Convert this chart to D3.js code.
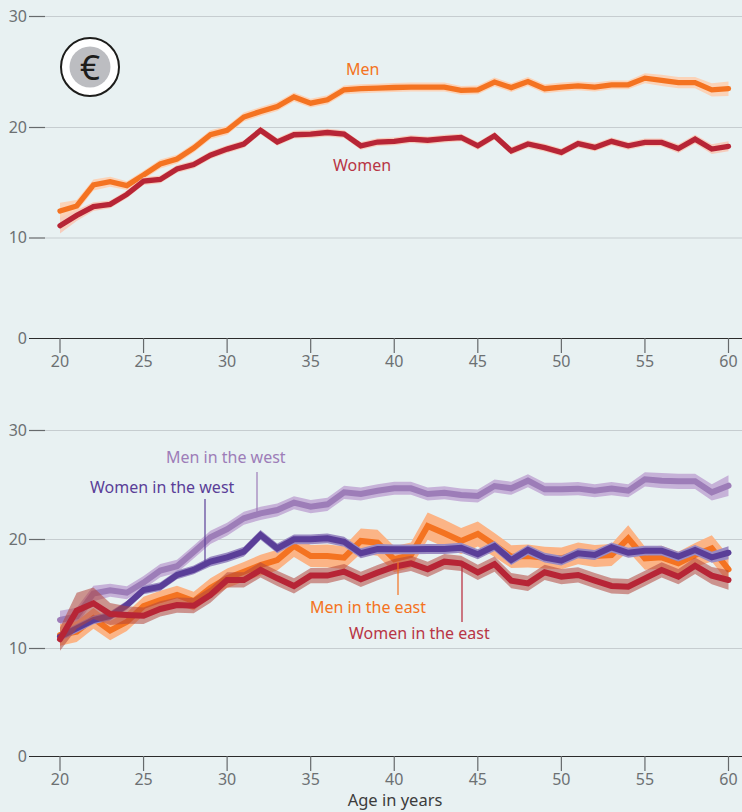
<!DOCTYPE html>
<html>
<head>
<meta charset="utf-8">
<script src="https://cdn.jsdelivr.net/npm/d3@7"></script>
<style>
  html,body{margin:0;padding:0;background:#e8f1f2;}
  svg{display:block;font-family:"Noto Sans","Open Sans",sans-serif;}
</style>
</head>
<body>
<div id="chart"></div>
<script>
const ages=d3.range(20,61);
const yTicks=[0,10,20,30];
const xTicks=[20,25,30,35,40,45,50,55,60];

// top panel, all of Germany
const men=[12.4,12.85,14.75,15.05,14.7,15.65,16.65,17.1,18.1,19.3,19.7,20.9,21.4,21.85,22.7,22.15,22.45,23.35,23.45,23.5,23.56,23.6,23.6,23.6,23.3,23.35,24.05,23.55,24.1,23.45,23.6,23.7,23.6,23.8,23.8,24.4,24.2,24.0,24.0,23.35,23.45];
const menBand=[.75,.55,.5,.45,.4,.4,.4,.4,.4,.4,.4,.4,.4,.4,.4,.4,.4,.4,.4,.4,.4,.4,.4,.4,.4,.4,.4,.4,.4,.4,.4,.4,.4,.4,.4,.45,.5,.5,.5,.6,.65];
const women=[11.07,12.0,12.8,13.0,13.9,15.1,15.25,16.2,16.6,17.45,18.0,18.45,19.7,18.65,19.3,19.35,19.5,19.35,18.3,18.64,18.7,18.9,18.8,18.95,19.05,18.3,19.2,17.83,18.46,18.13,17.7,18.5,18.15,18.7,18.3,18.6,18.6,18.05,18.9,18.0,18.25];
const womenBand=[.7,.5,.4,.35,.35,.35,.35,.35,.35,.35,.35,.35,.35,.35,.35,.35,.35,.35,.35,.35,.35,.35,.35,.35,.35,.35,.35,.35,.35,.35,.35,.35,.35,.35,.35,.35,.35,.4,.4,.45,.45];

// bottom panel, west and east
const menWest=[12.57,12.9,15.0,15.3,15.07,16.0,17.1,17.5,18.8,20.15,20.9,21.9,22.35,22.66,23.33,22.97,23.18,24.28,24.13,24.43,24.65,24.65,24.13,24.25,24.04,23.95,24.86,24.65,25.35,24.56,24.56,24.62,24.43,24.62,24.43,25.47,25.35,25.29,25.29,24.28,24.89];
const menWestBand=[.85,.8,.7,.6,.6,.6,.6,.6,.6,.6,.6,.6,.6,.6,.6,.6,.6,.6,.6,.6,.6,.6,.6,.6,.6,.6,.6,.6,.6,.6,.6,.6,.6,.6,.6,.65,.7,.7,.7,.75,.95];
const womenWest=[11.04,11.8,12.57,12.94,13.94,15.32,15.63,16.7,17.16,17.92,18.32,18.84,20.37,19.14,19.97,19.97,20.06,19.75,18.69,19.08,19.05,19.05,19.08,19.08,19.2,18.6,19.36,18.07,18.99,18.29,18.01,18.69,18.53,19.24,18.74,18.93,18.93,18.38,18.99,18.32,18.74];
const womenWestBand=[.4,.4,.4,.4,.4,.4,.4,.4,.4,.45,.45,.45,.45,.45,.45,.45,.45,.45,.45,.45,.45,.45,.45,.45,.45,.45,.45,.45,.45,.45,.45,.45,.45,.45,.45,.45,.45,.45,.45,.5,.6];
const menEast=[11.2,11.5,12.72,11.6,12.4,13.85,14.4,14.86,14.3,15.5,16.4,17.0,17.6,18.07,19.36,18.44,18.44,18.29,19.82,19.66,18.14,18.53,21.19,20.52,19.82,20.46,19.45,18.38,18.44,18.29,18.23,18.69,18.44,18.53,20.06,18.23,18.32,17.77,18.53,19.14,17.22];
const menEastBand=[1.0,.95,.95,.9,.85,.85,.85,.85,.85,.9,.9,.9,.95,.95,1.0,1.0,1.05,1.05,1.15,1.2,1.2,1.15,1.25,1.25,1.2,1.15,1.1,1.05,1.05,1.0,1.0,1.0,1.0,1.0,1.2,1.05,1.05,1.05,1.1,1.2,1.25];
const womenEast=[10.8,13.42,14.1,13.12,13.03,12.96,13.58,13.94,13.88,14.86,16.24,16.24,17.16,16.39,15.69,16.64,16.64,17.0,16.3,16.91,17.46,17.77,17.22,17.92,17.77,16.94,17.7,16.18,15.93,16.94,16.54,16.7,16.18,15.69,15.63,16.39,17.16,16.54,17.55,16.64,16.24];
const womenEastBand=[1.05,1.65,1.45,1.0,.8,.75,.7,.7,.7,.7,.7,.7,.7,.7,.7,.7,.7,.7,.7,.7,.7,.7,.7,.7,.7,.7,.7,.7,.7,.7,.7,.7,.7,.7,.7,.7,.7,.7,.75,.8,.9];

const W=742,H=812;
const svg=d3.select("#chart").append("svg").attr("width",W).attr("height",H);
svg.append("rect").attr("width",W).attr("height",H).attr("fill","#e8f1f2");

const x=d3.scaleLinear().domain([20,60]).range([60,728.5]);
const line=(y)=>d3.line().x((d,i)=>x(ages[i])).y(d=>y(d));

function panel(y){
  const g=svg.append("g");
  // gridlines run from the tick stubs to the right edge
  g.selectAll(".grid").data(yTicks.filter(d=>d>0)).join("line")
    .attr("x1",45).attr("x2",W)
    .attr("y1",d=>y(d)+.5).attr("y2",d=>y(d)+.5)
    .attr("stroke","#c6cdd0").attr("stroke-width",1.2);
  g.selectAll(".stub").data(yTicks.filter(d=>d>0)).join("line")
    .attr("x1",29).attr("x2",45)
    .attr("y1",d=>y(d)+.5).attr("y2",d=>y(d)+.5)
    .attr("stroke","#666a6c").attr("stroke-width",1.2);
  g.append("line")
    .attr("x1",29).attr("x2",W)
    .attr("y1",y(0)+.5).attr("y2",y(0)+.5)
    .attr("stroke","#2b2b2b").attr("stroke-width",1);
  g.selectAll(".ylab").data(yTicks).join("text")
    .attr("x",27).attr("y",d=>y(d)+5.5)
    .attr("text-anchor","end")
    .attr("font-size",16).attr("fill","#6c7072")
    .text(d=>d);
  g.selectAll(".xtick").data(xTicks).join("line")
    .attr("x1",d=>x(d)).attr("x2",d=>x(d))
    .attr("y1",y(0)).attr("y2",y(0)+15)
    .attr("stroke","#666a6c").attr("stroke-width",1.2);
  g.selectAll(".xlab").data(xTicks).join("text")
    .attr("x",d=>x(d)).attr("y",y(0)+29)
    .attr("text-anchor","middle")
    .attr("font-size",16).attr("fill","#6c7072")
    .text(d=>d);
}

function series(y,values,half,col,bandCol,width){
  const area=d3.area()
    .x((d,i)=>x(ages[i]))
    .y0((d,i)=>y(d-half[i]))
    .y1((d,i)=>y(d+half[i]));
  svg.append("path").attr("d",area(values)).attr("fill",bandCol);
  svg.append("path").attr("d",line(y)(values))
    .attr("fill","none").attr("stroke",col)
    .attr("stroke-width",width).attr("stroke-linecap","round");
}

function label(text,px,py,col){
  svg.append("text").attr("x",px).attr("y",py)
    .attr("font-size",16).attr("fill",col).text(text);
}
function leader(px,y1,y2,col){
  svg.append("line").attr("x1",px).attr("x2",px).attr("y1",y1).attr("y2",y2)
    .attr("stroke",col).attr("stroke-width",1.2);
}

const orange="#f47321",red="#b72536",lilac="#9d7db8",violet="#5a3e98";

// top panel: the 0 to 10 step really is shorter in the original
const yTop=d3.scaleLinear().domain(yTicks).range([338,237.5,127,16]);
panel(yTop);
series(yTop,men,menBand,orange,"#fbd3b8",5.3);
series(yTop,women,womenBand,red,"#f6cdbd",5.3);
label("Men",346,75,"#f47321");
label("Women",333,171,"#b83545");

// euro badge
const badge=svg.append("g").attr("transform","translate(90,67)");
badge.append("circle").attr("r",29).attr("fill","#fff").attr("stroke","#1d1d1b").attr("stroke-width",2);
badge.append("circle").attr("r",20.5).attr("fill","#bcbdc1");
badge.append("text").attr("y",12.5).attr("text-anchor","middle")
  .attr("font-size",35).attr("fill","#1d1d1b").text("€");

// bottom panel
const yBot=d3.scaleLinear().domain(yTicks).range([756,648,539,430]);
panel(yBot);
series(yBot,menWest,menWestBand,lilac,"#c6b2d8",6);
series(yBot,menEast,menEastBand,orange,"#fbb486",6);
series(yBot,womenWest,womenWestBand,violet,"#9a8bc2",6);
series(yBot,womenEast,womenEastBand,red,"rgba(178,70,60,.55)",6);

leader(257,472,513,lilac);
leader(205,499,563,violet);
leader(398,562,595,orange);
leader(462,567,622,red);
label("Men in the west",166,463,lilac);
label("Women in the west",90,493,violet);
label("Men in the east",310,613,orange);
label("Women in the east",349,639,"#b83545");

svg.append("text").attr("x",395).attr("y",806)
  .attr("text-anchor","middle").attr("font-size",16.5).attr("fill","#3c3c3c")
  .text("Age in years");
</script>
</body>
</html>
